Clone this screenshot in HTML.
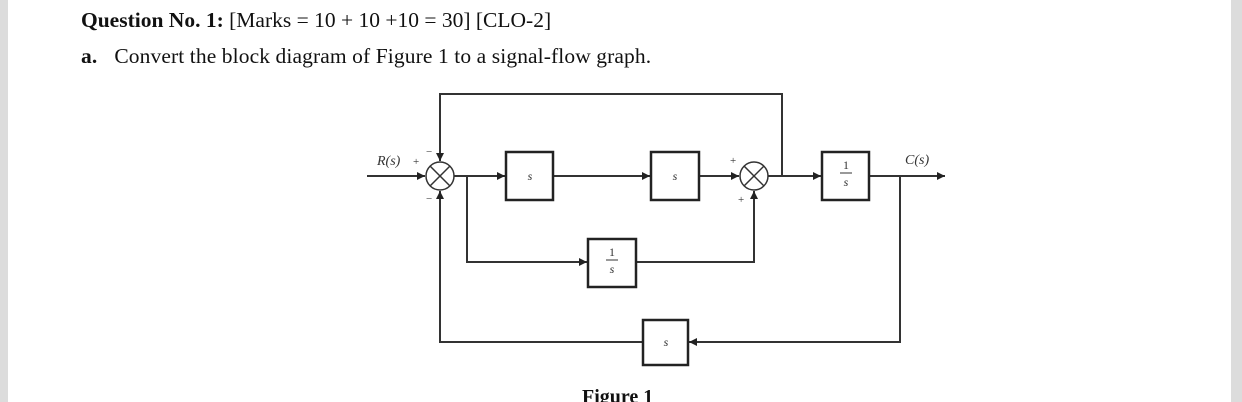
<!DOCTYPE html>
<html><head><meta charset="utf-8"><style>
body{margin:0;background:#fff;}
.wrap{position:relative;width:1242px;height:402px;overflow:hidden;background:#fff;font-family:"Liberation Serif",serif;color:#111;}
.l{position:absolute;left:0;top:0;width:8px;height:402px;background:#dcdcdc;}
.r{position:absolute;right:0;top:0;width:11px;height:402px;background:#dcdcdc;}
.t{position:absolute;white-space:nowrap;font-size:21.5px;}
</style></head><body><div class="wrap">
<div class="l"></div><div class="r"></div>
<div class="t" style="left:81px;top:8px;"><b>Question No. 1:</b> [Marks = 10 + 10 +10 = 30] [CLO-2]</div>
<div class="t" style="left:81px;top:44px;letter-spacing:0.1px;"><b>a.</b><span style="display:inline-block;width:17px"></span>Convert the block diagram of Figure 1 to a signal-flow graph.</div>
<svg width="1242" height="402" style="position:absolute;left:0;top:0" font-family="Liberation Serif, serif">
<defs><marker id="a" viewBox="0 0 10 10" refX="10" refY="5" markerWidth="11" markerHeight="8" markerUnits="userSpaceOnUse" orient="auto"><path d="M0,0L10,5L0,10z" fill="#222"/></marker></defs>
<g stroke="#333" stroke-width="2" fill="none">
<line x1="367" y1="176" x2="425" y2="176" marker-end="url(#a)"/>
<line x1="454" y1="176" x2="505" y2="176" marker-end="url(#a)"/>
<line x1="553" y1="176" x2="650" y2="176" marker-end="url(#a)"/>
<line x1="699" y1="176" x2="739" y2="176" marker-end="url(#a)"/>
<line x1="768" y1="176" x2="821" y2="176" marker-end="url(#a)"/>
<line x1="869" y1="176" x2="945" y2="176" marker-end="url(#a)"/>
<polyline points="782,176 782,94 440,94 440,161" marker-end="url(#a)"/>
<polyline points="467,176 467,262 587,262" marker-end="url(#a)"/>
<polyline points="636,262 754,262 754,191" marker-end="url(#a)"/>
<polyline points="900,176 900,342 689,342" marker-end="url(#a)"/>
<polyline points="643,342 440,342 440,191" marker-end="url(#a)"/>
<circle cx="440" cy="176" r="14" stroke-width="1.5"/><line x1="430" y1="166" x2="450" y2="186" stroke-width="1.5"/><line x1="450" y1="166" x2="430" y2="186" stroke-width="1.5"/>
<circle cx="754" cy="176" r="14" stroke-width="1.5"/><line x1="744" y1="166" x2="764" y2="186" stroke-width="1.5"/><line x1="764" y1="166" x2="744" y2="186" stroke-width="1.5"/>
</g>
<g stroke="#222" stroke-width="2.5" fill="#fff">
<rect x="506" y="152" width="47" height="48"/>
<rect x="651" y="152" width="48" height="48"/>
<rect x="822" y="152" width="47" height="48"/>
<rect x="588" y="239" width="48" height="48"/>
<rect x="643" y="320" width="45" height="45"/>
</g>
<g font-size="12" font-style="italic" fill="#333" text-anchor="middle">
<text x="530" y="180">s</text><text x="675" y="180">s</text><text x="666" y="346">s</text>
<text x="846" y="169" font-style="normal">1</text><line x1="840" y1="173" x2="852" y2="173" stroke="#333"/><text x="846" y="186">s</text>
<text x="612" y="256" font-style="normal">1</text><line x1="606" y1="260" x2="618" y2="260" stroke="#333"/><text x="612" y="273">s</text>
</g>
<g font-size="14" fill="#333">
<text x="377" y="165" font-style="italic">R(s)</text><text x="413" y="165" font-size="11">+</text>
<text x="426" y="155" font-size="11">−</text><text x="426" y="202" font-size="11">−</text>
<text x="730" y="164" font-size="11">+</text><text x="738" y="203" font-size="11">+</text>
<text x="905" y="164" font-style="italic">C(s)</text>
</g>
<text x="582" y="403" font-size="20" font-weight="bold" fill="#111">Figure 1</text>
</svg>
</div></body></html>
